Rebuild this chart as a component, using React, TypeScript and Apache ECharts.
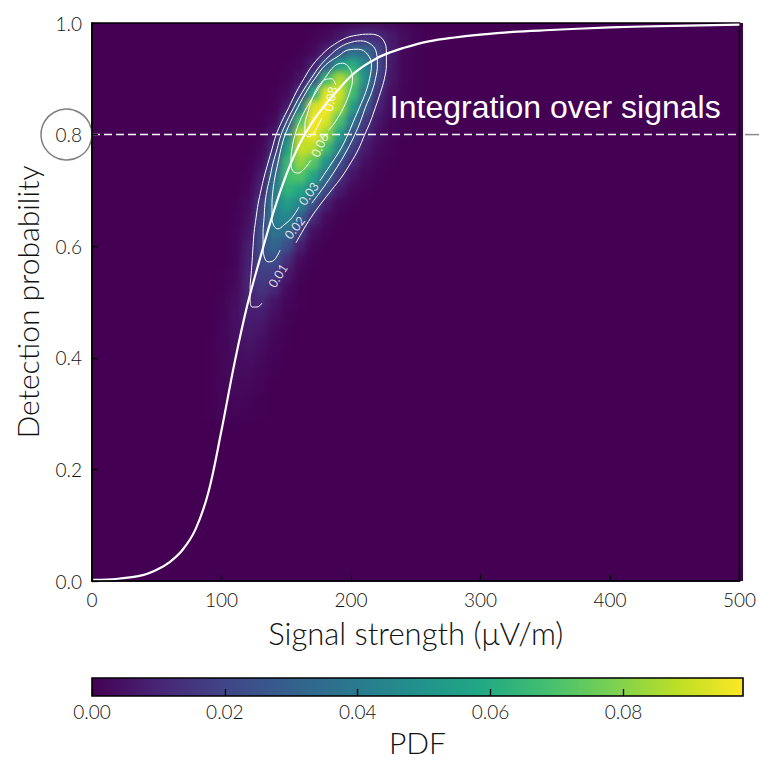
import React, { useEffect, useRef } from "react";
import * as echarts from "echarts";

const FONT = "Lato, 'Liberation Sans', Arial, sans-serif";
const NOTE_FONT = "'Liberation Sans', Arial, sans-serif";

// ---------- detection curve (signal strength -> detection probability)
const curveX = [0, 20, 40, 50, 60, 70, 80, 90, 100, 110, 120, 130, 140, 150, 160, 170, 180, 190, 200, 210, 220, 230, 240, 260, 280, 300, 325, 350, 400, 450, 500];
const curveY = [0.002, 0.004, 0.011, 0.02, 0.034, 0.056, 0.093, 0.16, 0.27, 0.39, 0.495, 0.58, 0.66, 0.728, 0.782, 0.822, 0.853, 0.88, 0.905, 0.923, 0.937, 0.947, 0.955, 0.967, 0.974, 0.979, 0.984, 0.987, 0.992, 0.995, 0.997];

// ---------- joint PDF (columns = signal, rows = probability)
const pdfX = [90, 100, 110, 120, 130, 140, 150, 160, 170, 180, 190, 200, 210, 220, 230, 240, 250];
const pdfY = [1.0, 0.975, 0.95, 0.925, 0.9, 0.875, 0.85, 0.825, 0.8, 0.775, 0.75, 0.725, 0.7, 0.675, 0.65, 0.625, 0.6, 0.575, 0.55, 0.525, 0.5, 0.475, 0.45, 0.425, 0.4, 0.375, 0.35, 0.325, 0.3];
const pdfRows = [
  [0, 0, 0, 0, 0, 0, 0, 0, 0, 0, 0.0011, 0.0025, 0.0038, 0.0038, 0.0025, 0.0011, 0.0003],
  [0, 0, 0, 0, 0, 0, 0, 0.0001, 0.0007, 0.0024, 0.0059, 0.0104, 0.0130, 0.0114, 0.0070, 0.0030, 0.0009],
  [0, 0, 0, 0, 0, 0, 0, 0.0004, 0.0023, 0.0090, 0.0223, 0.0345, 0.0334, 0.0202, 0.0076, 0.0018, 0.0003],
  [0, 0, 0, 0, 0, 0, 0.0002, 0.0016, 0.0087, 0.0282, 0.0538, 0.0611, 0.0443, 0.0211, 0.0065, 0.0013, 0.0002],
  [0, 0, 0, 0, 0, 0, 0.0007, 0.0052, 0.0234, 0.0660, 0.0860, 0.0750, 0.0480, 0.0186, 0.0058, 0.0013, 0.0002],
  [0, 0, 0, 0, 0, 0.0002, 0.0022, 0.0150, 0.0600, 0.0940, 0.0920, 0.0680, 0.0380, 0.0133, 0.0040, 0.0009, 0.0002],
  [0, 0, 0, 0, 0, 0.0005, 0.0066, 0.0420, 0.0920, 0.0980, 0.0860, 0.0550, 0.0270, 0.0086, 0.0025, 0.0006, 0.0001],
  [0, 0, 0, 0, 0.0001, 0.0023, 0.0220, 0.0700, 0.0980, 0.0930, 0.0700, 0.0400, 0.0155, 0.0055, 0.0015, 0.0003, 0],
  [0, 0, 0, 0, 0.0007, 0.0074, 0.0420, 0.0880, 0.0960, 0.0830, 0.0560, 0.0263, 0.0112, 0.0039, 0.0011, 0.0002, 0],
  [0, 0, 0, 0.0001, 0.0016, 0.0130, 0.0560, 0.0900, 0.0870, 0.0670, 0.0420, 0.0180, 0.0071, 0.0023, 0.0005, 0, 0],
  [0, 0, 0, 0.0002, 0.0035, 0.0250, 0.0660, 0.0820, 0.0720, 0.0500, 0.0245, 0.0108, 0.0038, 0.0011, 0.0002, 0, 0],
  [0, 0, 0, 0.0008, 0.0071, 0.0340, 0.0680, 0.0710, 0.0570, 0.0350, 0.0146, 0.0054, 0.0016, 0.0003, 0, 0, 0],
  [0, 0, 0.0001, 0.0015, 0.0105, 0.0400, 0.0630, 0.0580, 0.0410, 0.0210, 0.0070, 0.0019, 0.0005, 0, 0, 0, 0],
  [0, 0, 0.0002, 0.0029, 0.0170, 0.0430, 0.0540, 0.0440, 0.0240, 0.0078, 0.0019, 0.0003, 0, 0, 0, 0, 0],
  [0, 0, 0.0005, 0.0039, 0.0200, 0.0420, 0.0450, 0.0290, 0.0120, 0.0024, 0.0003, 0, 0, 0, 0, 0, 0],
  [0, 0, 0.0008, 0.0053, 0.0220, 0.0380, 0.0340, 0.0170, 0.0040, 0.0006, 0, 0, 0, 0, 0, 0, 0],
  [0, 0, 0.0009, 0.0075, 0.0230, 0.0320, 0.0230, 0.0080, 0.0011, 0.0001, 0, 0, 0, 0, 0, 0, 0],
  [0, 0.0001, 0.0012, 0.0085, 0.0210, 0.0240, 0.0130, 0.0024, 0.0002, 0, 0, 0, 0, 0, 0, 0, 0],
  [0, 0.0002, 0.0017, 0.0095, 0.0180, 0.0170, 0.0070, 0.0010, 0.0001, 0, 0, 0, 0, 0, 0, 0, 0],
  [0, 0.0003, 0.0025, 0.0095, 0.0150, 0.0110, 0.0029, 0.0004, 0, 0, 0, 0, 0, 0, 0, 0, 0],
  [0.0001, 0.0007, 0.0037, 0.0090, 0.0103, 0.0055, 0.0014, 0.0002, 0, 0, 0, 0, 0, 0, 0, 0, 0],
  [0.0001, 0.0009, 0.0039, 0.0079, 0.0075, 0.0034, 0.0007, 0, 0, 0, 0, 0, 0, 0, 0, 0, 0],
  [0.0001, 0.0011, 0.0039, 0.0067, 0.0054, 0.0020, 0.0004, 0, 0, 0, 0, 0, 0, 0, 0, 0, 0],
  [0.0002, 0.0012, 0.0037, 0.0053, 0.0036, 0.0011, 0.0002, 0, 0, 0, 0, 0, 0, 0, 0, 0, 0],
  [0.0002, 0.0013, 0.0033, 0.0040, 0.0023, 0.0006, 0, 0, 0, 0, 0, 0, 0, 0, 0, 0, 0],
  [0.0003, 0.0013, 0.0028, 0.0028, 0.0014, 0.0003, 0, 0, 0, 0, 0, 0, 0, 0, 0, 0, 0],
  [0.0003, 0.0012, 0.0022, 0.0019, 0.0008, 0.0001, 0, 0, 0, 0, 0, 0, 0, 0, 0, 0, 0],
  [0.0003, 0.0010, 0.0016, 0.0011, 0.0004, 0, 0, 0, 0, 0, 0, 0, 0, 0, 0, 0, 0],
  [0.0003, 0.0008, 0.0010, 0.0006, 0.0002, 0, 0, 0, 0, 0, 0, 0, 0, 0, 0, 0, 0],
];
const pdfMax = 0.098;

// ---------- contour lines (open where the inline label sits)
const contour001 = [[157.5, 0.606], [162.1, 0.625], [169.0, 0.651], [176.7, 0.676], [185.1, 0.701], [192.8, 0.724], [199.7, 0.749], [205.8, 0.774], [210.4, 0.799], [215.1, 0.824], [218.9, 0.849], [222.7, 0.875], [225.8, 0.9], [227.3, 0.925], [227.3, 0.95], [225.8, 0.966], [221.2, 0.977], [213.5, 0.98], [204.3, 0.978], [195.9, 0.973], [187.4, 0.962], [180.5, 0.95], [170.5, 0.925], [163.6, 0.9], [157.5, 0.875], [152.1, 0.849], [146.7, 0.824], [142.1, 0.799], [139.0, 0.774], [135.9, 0.749], [132.9, 0.724], [130.6, 0.701], [128.3, 0.676], [126.7, 0.651], [125.2, 0.625], [124.4, 0.6], [123.7, 0.575], [122.9, 0.55], [122.1, 0.525], [122.1, 0.504], [123.7, 0.491], [127.5, 0.491], [131.3, 0.498]];
const contour002 = [[169.7, 0.677], [177.4, 0.701], [184.3, 0.724], [191.2, 0.749], [197.4, 0.774], [202.8, 0.799], [207.4, 0.824], [211.2, 0.849], [215.8, 0.875], [218.9, 0.9], [220.4, 0.925], [219.7, 0.946], [215.8, 0.961], [207.4, 0.968], [198.2, 0.964], [190.5, 0.955], [184.3, 0.943], [176.7, 0.925], [169.0, 0.9], [162.1, 0.875], [155.9, 0.849], [150.5, 0.824], [145.9, 0.799], [142.9, 0.774], [139.8, 0.749], [137.5, 0.724], [135.2, 0.701], [133.6, 0.676], [132.9, 0.651], [132.1, 0.625], [132.1, 0.6], [132.9, 0.582], [135.9, 0.572], [140.6, 0.575], [145.2, 0.593]];
const contour003 = [[175.9, 0.717], [185.1, 0.749], [192.0, 0.774], [197.4, 0.799], [202.0, 0.824], [206.6, 0.849], [211.2, 0.875], [214.3, 0.9], [215.8, 0.925], [212.7, 0.944], [205.8, 0.953], [198.2, 0.952], [190.5, 0.941], [180.5, 0.925], [172.0, 0.9], [165.1, 0.875], [159.0, 0.849], [153.6, 0.824], [149.0, 0.799], [145.9, 0.774], [143.6, 0.749], [141.3, 0.724], [139.8, 0.701], [139.0, 0.676], [139.0, 0.651], [140.6, 0.636], [143.6, 0.631], [148.2, 0.638], [154.4, 0.651], [159.8, 0.67]];
const contour006 = [[182.8, 0.808], [188.2, 0.824], [194.3, 0.849], [198.9, 0.875], [201.2, 0.9], [198.9, 0.919], [193.5, 0.928], [187.4, 0.923], [180.5, 0.903], [172.8, 0.875], [165.9, 0.849], [160.5, 0.824], [156.7, 0.799], [154.4, 0.774], [153.6, 0.751], [155.1, 0.735], [159.0, 0.731], [163.6, 0.738], [169.0, 0.754]];
const contour008 = [[188.2, 0.889], [185.1, 0.9], [179.7, 0.898], [174.3, 0.885], [169.7, 0.862], [166.7, 0.839], [164.4, 0.817], [164.4, 0.803], [167.4, 0.796], [172.0, 0.805], [177.4, 0.83]];
const contours = [contour001, contour002, contour003, contour006, contour008];

const contourLabelText = ["0.01", "0.02", "0.03", "0.06", "0.08"];
const contourLabelX = [143.6, 156.7, 167.4, 175.9, 184.3];
const contourLabelY = [0.547, 0.633, 0.694, 0.781, 0.864];
const contourLabelAngle = [58, 52, 55, 65, 78];

// ---------- axes / annotations
const xTickStep = 100;
const yTickStep = 0.2;
const cbTickStep = 0.02;
const thresholdP = 0.8;
const annotationText = "Integration over signals";
const annotationAt = [230, 0.849];

const viridis = ["#440154", "#482475", "#414487", "#355f8d", "#2a788e", "#21918c", "#22a884", "#44bf70", "#7ad151", "#bddf26", "#fde725"];

const W = 759;
const G = { left: 92, top: 23, right: 743, bottom: 581 };
const PAD = 30;

export default function App() {
  const topRef = useRef<HTMLDivElement>(null);
  const heatRef = useRef<HTMLDivElement>(null);

  useEffect(() => {
    const heat = echarts.init(heatRef.current!, null, { renderer: "svg" });
    const cells: number[][] = [];
    pdfY.forEach((y, r) => pdfX.forEach((x, c) => {
      const v = pdfRows[r][c];
      if (v > 0) cells.push([x, y, v]);
    }));
    const dx = pdfX[1] - pdfX[0];
    const dy = pdfY[0] - pdfY[1];
    heat.setOption({
      animation: false,
      backgroundColor: viridis[0],
      grid: { left: PAD, right: PAD, top: PAD, bottom: PAD },
      xAxis: { type: "value", min: 0, max: 500, show: false },
      yAxis: { type: "value", min: 0, max: 1, show: false },
      visualMap: { show: false, type: "continuous", min: 0, max: pdfMax, dimension: 2, seriesIndex: 0, inRange: { color: viridis } },
      series: [{
        type: "custom",
        data: cells,
        renderItem: (params: any, api: any) => {
          const x = api.value(0), y = api.value(1);
          const p0 = api.coord([x - dx / 2, y + dy / 2]);
          const p1 = api.coord([x + dx / 2, y - dy / 2]);
          return {
            type: "rect",
            shape: { x: p0[0], y: p0[1], width: p1[0] - p0[0] + 0.6, height: p1[1] - p0[1] + 0.6 },
            style: { fill: api.visual("color") },
          };
        },
      }],
    });

    const top = echarts.init(topRef.current!, null, { renderer: "svg" });
    const tickLabel = { color: "#111", fontSize: 19, fontFamily: FONT, fontWeight: 300 };
    const titleStyle = { color: "#111", fontSize: 30, lineHeight: 30, fontFamily: FONT, fontWeight: 300 };
    const contourSeries = contours.map((pts) => ({
      type: "line",
      xAxisIndex: 0, yAxisIndex: 0,
      data: pts,
      smooth: 0.4,
      symbol: "none",
      silent: true,
      lineStyle: { color: "#ffffff", width: 1 },
      z: 3,
    }));
    top.setOption({
      animation: false,
      backgroundColor: "transparent",
      textStyle: { fontFamily: FONT },
      grid: [
        { left: G.left, top: G.top, right: W - G.right, bottom: W - G.bottom, show: true, borderColor: "#000", borderWidth: 1.6, backgroundColor: "transparent" },
        { left: G.left, top: 678, right: W - G.right, height: 18 },
      ],
      xAxis: [
        {
          gridIndex: 0, type: "value", min: 0, max: 500, interval: xTickStep,
          axisLine: { show: true, lineStyle: { color: "#000", width: 1.6 } },
          axisTick: { show: true, inside: true, length: 6, lineStyle: { color: "#000", width: 1.3 } },
          axisLabel: { ...tickLabel, margin: 9 },
          splitLine: { show: false },
          name: "Signal strength (μV/m)", nameLocation: "middle", nameGap: 37, nameTextStyle: { ...titleStyle, fontSize: 31 },
          z: 5,
        },
        {
          gridIndex: 1, type: "value", min: 0, max: pdfMax, interval: cbTickStep,
          axisLine: { show: false },
          axisTick: { show: true, inside: true, length: 7, lineStyle: { color: "#000", width: 1.3 } },
          axisLabel: { ...tickLabel, margin: 6, showMaxLabel: false, formatter: (v: number) => v.toFixed(2) },
          splitLine: { show: false },
          name: "PDF", nameLocation: "middle", nameGap: 31, nameTextStyle: titleStyle,
          z: 5,
        },
      ],
      yAxis: [
        {
          gridIndex: 0, type: "value", min: 0, max: 1, interval: yTickStep,
          axisLine: { show: true, lineStyle: { color: "#000", width: 1.6 } },
          axisTick: { show: true, inside: true, length: 6, lineStyle: { color: "#000", width: 1.3 } },
          axisLabel: { ...tickLabel, margin: 10, formatter: (v: number) => v.toFixed(1) },
          splitLine: { show: false },
          name: "Detection probability", nameLocation: "middle", nameGap: 50, nameTextStyle: titleStyle,
          z: 5,
        },
        { gridIndex: 1, type: "value", min: 0, max: 1, show: false },
      ],
      series: [
        {
          type: "custom", xAxisIndex: 1, yAxisIndex: 1, data: [[0, pdfMax]], z: 1, silent: true,
          encode: { x: [0, 1] },
          renderItem: (params: any, api: any) => {
            const p0 = api.coord([api.value(0), 1]);
            const p1 = api.coord([api.value(1), 0]);
            return {
              type: "rect",
              shape: { x: p0[0], y: p0[1], width: p1[0] - p0[0], height: p1[1] - p0[1] },
              style: {
                fill: new echarts.graphic.LinearGradient(0, 0, 1, 0, viridis.map((c, i) => ({ offset: i / (viridis.length - 1), color: c }))),
                stroke: "#000", lineWidth: 1.6,
              },
            };
          },
        },
        {
          type: "line", xAxisIndex: 0, yAxisIndex: 0, data: [[0, thresholdP], [500, thresholdP]],
          symbol: "none", silent: true, lineStyle: { color: "#ffffff", width: 1.5, type: [8, 4] }, z: 2,
        },
        ...contourSeries,
        {
          type: "line", xAxisIndex: 0, yAxisIndex: 0, data: curveX.map((x, i) => [x, curveY[i]]),
          smooth: 0.35, symbol: "none", silent: true,
          lineStyle: { color: "#ffffff", width: 2.2 }, z: 4,
        },
        {
          type: "scatter", xAxisIndex: 0, yAxisIndex: 0, symbolSize: 0, silent: true, z: 6,
          itemStyle: { color: "transparent" },
          data: contourLabelText.map((t, i) => ({
            value: [contourLabelX[i], contourLabelY[i]],
            label: { show: true, formatter: t, rotate: contourLabelAngle[i], position: "inside", color: "#ffffff", fontSize: 12.5, fontFamily: FONT },
          })),
        },
      ],
    });

    const pt = top.convertToPixel({ gridIndex: 0 }, [0, thresholdP]) as number[];
    const an = top.convertToPixel({ gridIndex: 0 }, annotationAt) as number[];
    top.setOption({
      graphic: [
        { type: "circle", shape: { cx: 66.5, cy: pt[1], r: 25.5 }, style: { fill: "none", stroke: "#808080", lineWidth: 1.5 }, silent: true },
        { type: "line", shape: { x1: G.right + 2, y1: pt[1], x2: W, y2: pt[1] }, style: { stroke: "#8c8c8c", lineWidth: 1.5 }, silent: true },
        { type: "text", x: an[0], y: an[1], style: { text: annotationText, fill: "#ffffff", font: `32px ${NOTE_FONT}`, verticalAlign: "middle", align: "left" }, silent: true, z: 10 },
      ],
    });

    return () => {
      heat.dispose();
      top.dispose();
    };
  }, []);

  return (
    <div style={{ position: "fixed", left: 0, top: 0, width: W, height: W, background: "#fff", overflow: "hidden" }}>
      <div style={{ position: "absolute", left: G.left, top: G.top, width: G.right - G.left, height: G.bottom - G.top, overflow: "hidden" }}>
        <div ref={heatRef} style={{ position: "absolute", left: -PAD, top: -PAD, width: G.right - G.left + 2 * PAD, height: G.bottom - G.top + 2 * PAD, filter: "blur(3.5px)" }} />
      </div>
      <div ref={topRef} style={{ position: "absolute", left: 0, top: 0, width: W, height: W }} />
    </div>
  );
}
